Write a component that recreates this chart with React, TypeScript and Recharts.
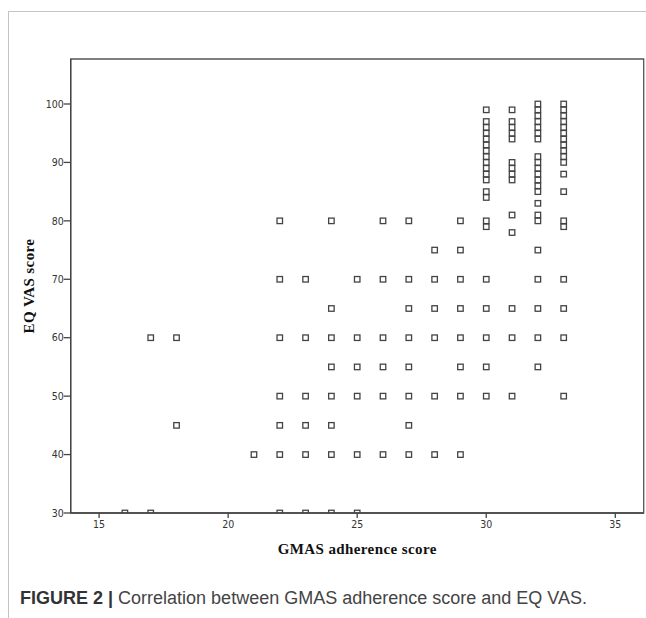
import {
  Label,
  ReferenceArea,
  Scatter,
  ScatterChart,
  XAxis,
  YAxis,
} from 'recharts'

// GMAS adherence score columns and the EQ VAS values plotted in each
const gmasScores = [16, 17, 18, 21, 22, 23, 24, 25, 26, 27, 28, 29, 30, 31, 32, 33]

const vasScores: number[][] = [
  [30],
  [60, 30],
  [60, 45],
  [40],
  [80, 70, 60, 50, 45, 40, 30],
  [70, 60, 50, 45, 40, 30],
  [80, 65, 60, 55, 50, 45, 40, 30],
  [70, 60, 55, 50, 40, 30],
  [80, 70, 60, 55, 50, 40],
  [80, 70, 65, 60, 55, 50, 45, 40],
  [75, 70, 65, 60, 50, 40],
  [80, 75, 70, 65, 60, 55, 50, 40],
  [99, 97, 96, 95, 94, 93, 92, 91, 90, 89, 88, 87, 85, 84, 80, 79, 70, 65, 60, 55, 50],
  [99, 97, 96, 95, 94, 90, 89, 88, 87, 81, 78, 65, 60, 50],
  [100, 99, 98, 97, 96, 95, 94, 91, 90, 89, 88, 87, 86, 85, 83, 81, 80, 75, 70, 65, 60, 55],
  [100, 99, 98, 97, 96, 95, 94, 93, 92, 91, 90, 88, 85, 80, 79, 70, 65, 60, 50],
]

const xTicks = [15, 20, 25, 30, 35]
const yTicks = [30, 40, 50, 60, 70, 80, 90, 100]
const xDomain: [number, number] = [13.9, 36.1]
const yDomain: [number, number] = [30, 107.7]

const points = gmasScores.flatMap((gmas, i) =>
  vasScores[i].map((vas) => ({ gmas, vas }))
)

const tickStyle = {
  fill: '#333',
  fontFamily: '"DejaVu Sans Condensed", "DejaVu Sans", sans-serif',
  fontSize: 10.5,
}

const titleStyle = {
  fill: '#111',
  fontFamily: '"Liberation Serif", serif',
  fontSize: 15,
  fontWeight: 700,
  letterSpacing: 0.4,
}

const SquareMarker = (props: any) => {
  const { cx, cy } = props
  if (cx == null || cy == null) return null
  return (
    <rect
      fill="none"
      height={5.5}
      stroke="#444"
      strokeWidth={1.3}
      width={5.5}
      x={cx - 2.75}
      y={cy - 2.75}
    />
  )
}

export default function App() {
  return (
    <div
      style={{
        position: 'absolute',
        left: 0,
        top: 0,
        width: 646,
        height: 618,
        background: '#fff',
        overflow: 'hidden',
      }}
    >
      <div
        style={{
          position: 'absolute',
          left: 8,
          top: 11,
          width: 646,
          height: 620,
          borderTop: '1px solid #c4c4c4',
          borderLeft: '1px solid #c4c4c4',
        }}
      />
      <div style={{ position: 'absolute', left: 0, top: 0 }}>
        <ScatterChart
          height={618}
          margin={{ top: 59, right: 2.3, bottom: 80, left: 25.7 }}
          width={646}
        >
          <ReferenceArea
            fill="none"
            ifOverflow="visible"
            stroke="#555"
            strokeWidth={1.3}
            x1={xDomain[0]}
            x2={xDomain[1]}
            y1={yDomain[0]}
            y2={yDomain[1]}
          />
          <XAxis
            allowDataOverflow
            axisLine={{ stroke: '#444', strokeWidth: 1.3 }}
            dataKey="gmas"
            domain={xDomain}
            height={25}
            tick={tickStyle}
            tickLine={{ stroke: '#444', strokeWidth: 1.3 }}
            tickMargin={3}
            tickSize={5}
            ticks={xTicks}
            type="number"
          >
            <Label
              offset={5}
              position="bottom"
              style={titleStyle}
              value="GMAS adherence score"
            />
          </XAxis>
          <YAxis
            allowDataOverflow
            axisLine={{ stroke: '#444', strokeWidth: 1.3 }}
            dataKey="vas"
            domain={yDomain}
            tick={tickStyle}
            tickLine={{ stroke: '#444', strokeWidth: 1.3 }}
            tickMargin={0}
            tickSize={7}
            ticks={yTicks}
            type="number"
            width={45}
          >
            <Label
              angle={-90}
              offset={3}
              position="insideLeft"
              style={{ ...titleStyle, textAnchor: 'middle' }}
              value="EQ VAS score"
            />
          </YAxis>
          <Scatter
            data={points}
            isAnimationActive={false}
            shape={SquareMarker}
          />
        </ScatterChart>
      </div>
      <div
        style={{
          position: 'absolute',
          left: 20,
          top: 588,
          fontFamily: '"Liberation Sans", Arial, sans-serif',
          fontSize: 18,
          color: '#444',
          whiteSpace: 'nowrap',
        }}
      >
        <span style={{ fontWeight: 700, color: '#333' }}>FIGURE 2 | </span>
        Correlation between GMAS adherence score and EQ VAS.
      </div>
    </div>
  )
}
